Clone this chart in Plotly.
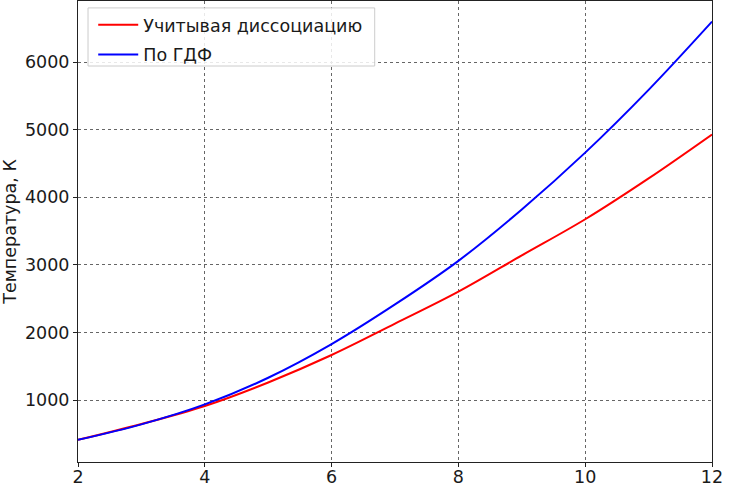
import plotly.graph_objects as go

# значения
mach = [2, 3, 4, 5, 6, 7, 8, 9, 10, 11, 12]
t_dissoc = [410, 645, 912, 1260, 1666, 2130, 2603, 3140, 3675, 4280, 4930]
t_gdf = [410, 640, 935, 1330, 1828, 2415, 3060, 3820, 4661, 5590, 6600]

font_family = 'DejaVu Sans'
text_color = '#1a1a1a'

fig = go.Figure()
fig.add_trace(go.Scatter(x=mach, y=t_dissoc, mode='lines', name='Учитывая диссоциацию',
                         line=dict(color='#ff0000', width=2, shape='spline'),
                         legendgroup='a'))
fig.add_trace(go.Scatter(x=mach, y=t_gdf, mode='lines', name='По ГДФ',
                         line=dict(color='#0000ff', width=2, shape='spline'),
                         legendgroup='b'))

axis_common = dict(showline=True, linecolor='#222222', linewidth=1, mirror=True,
                   ticks='outside', ticklen=4, tickcolor='#222222', tickwidth=1,
                   showgrid=True, gridcolor='#666666', gridwidth=0.7, griddash='dot',
                   zeroline=False, tickfont=dict(family=font_family, size=17.5, color=text_color))

fig.update_xaxes(range=[2, 12], tickvals=[2, 4, 6, 8, 10, 12], ticklabelstandoff=-5,
                 **axis_common)
fig.update_yaxes(range=[83, 6905], tickvals=[1000, 2000, 3000, 4000, 5000, 6000],
                 title=dict(text='Температура, К', standoff=5,
                            font=dict(family=font_family, size=17.5, color=text_color)),
                 **axis_common)

# рамка легенды как в matplotlib
fig.add_shape(type='rect', xref='paper', yref='paper',
              x0=0.0158, x1=0.468, y0=0.859, y1=0.985,
              line=dict(color='#cccccc', width=1), fillcolor='rgba(255,255,255,0.85)',
              layer='above')

fig.update_layout(
    width=730, height=486,
    margin=dict(l=78, r=18, t=1, b=24, autoexpand=False),
    paper_bgcolor='white', plot_bgcolor='white',
    showlegend=True,
    legend=dict(x=0.024, y=0.987, xanchor='left', yanchor='top',
                bgcolor='rgba(0,0,0,0)', borderwidth=0, itemwidth=40,
                font=dict(family=font_family, size=17.5, color=text_color),
                tracegroupgap=4),
)

# убрать отступ body, чтобы график встал ровно в окно
fig.write_html('out.html', config={'displayModeBar': False},
               post_script="document.body.style.margin='0';")
